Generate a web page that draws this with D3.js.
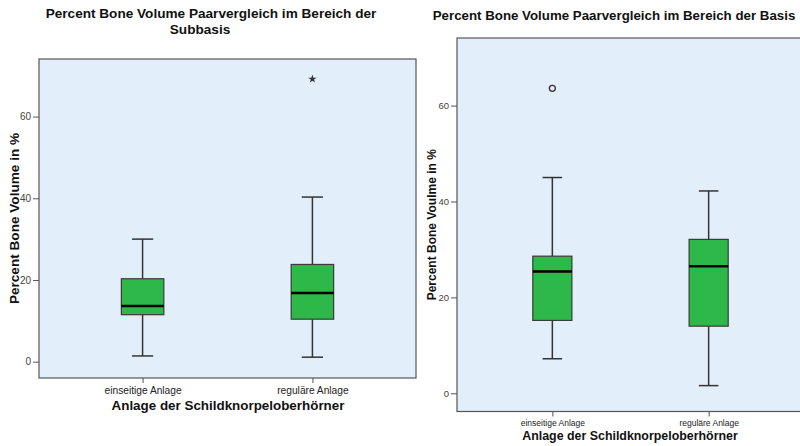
<!DOCTYPE html>
<html><head><meta charset="utf-8">
<script src="https://cdn.jsdelivr.net/npm/d3@7"></script>
<style>body{margin:0;background:#fff;}svg{display:block;font-family:"Liberation Sans",Arial,sans-serif;}</style>
</head><body>
<svg id="c" width="800" height="446"></svg>
<script>
const categories = ["einseitige Anlage", "reguläre Anlage"];
const yTicks = [0, 20, 40, 60];
// Subbasis panel
const subMin = [1.4, 1.1];
const subQ1 = [11.5, 10.4];
const subMedian = [13.6, 16.8];
const subQ3 = [20.3, 23.8];
const subMax = [30.0, 40.3];
const subExtreme = [null, 69.2]; // star
// Basis panel
const basMin = [7.2, 1.6];
const basQ1 = [15.2, 14.0];
const basMedian = [25.4, 26.5];
const basQ3 = [28.6, 32.1];
const basMax = [45.0, 42.2];
const basOutlier = [63.6, null]; // circle

const svg = d3.select("#c");
const bg = "#e2eefa", green = "#2eb84a", line = "#333";

function panel(cfg) {
  const {x0, x1, y0, y1, dom, pad, ylab, xlab, mins, q1, med, q3, maxs, outs, outType,
    tickFont, xTickFont, labFont, xlabFont, titleFont, xTickY, xLabY, yLabX, titleLines} = cfg;
  const g = svg.append("g");
  const y = d3.scaleLinear().domain(dom).range([y1, y0]);
  const x = d3.scalePoint().domain(categories).range([x0, x1]).padding(pad);
  const bw = x.step() * 0.25;
  g.append("rect").attr("x", x0).attr("y", y0).attr("width", x1 - x0).attr("height", y1 - y0)
    .attr("fill", bg).attr("stroke", "#555").attr("stroke-width", 1.2);
  const ya = g.append("g").attr("transform", `translate(${x0},0)`)
    .call(d3.axisLeft(y).tickValues(yTicks).tickSize(6).tickPadding(2));
  ya.select(".domain").remove();
  ya.selectAll("line").attr("stroke", "#555");
  ya.selectAll("text").attr("fill", "#444").style("font-size", tickFont + "px").style("font-family", "Liberation Sans, Arial");
  const xa = g.append("g").attr("transform", `translate(0,${y1})`)
    .call(d3.axisBottom(x).tickSize(5).tickPadding(4));
  xa.select(".domain").remove();
  xa.selectAll("line").attr("stroke", "#555");
  xa.selectAll("text").attr("fill", "#222").style("font-size", xTickFont + "px")
    .style("font-family", "Liberation Sans, Arial").attr("y", xTickY - y1).attr("dy", "0.35em");
  categories.forEach((c, i) => {
    const cx = x(c);
    g.append("line").attr("x1", cx).attr("x2", cx).attr("y1", y(maxs[i])).attr("y2", y(q3[i])).attr("stroke", line).attr("stroke-width", 1.5);
    g.append("line").attr("x1", cx).attr("x2", cx).attr("y1", y(q1[i])).attr("y2", y(mins[i])).attr("stroke", line).attr("stroke-width", 1.5);
    g.append("line").attr("x1", cx - bw / 4).attr("x2", cx + bw / 4).attr("y1", y(maxs[i])).attr("y2", y(maxs[i])).attr("stroke", line).attr("stroke-width", 1.5);
    g.append("line").attr("x1", cx - bw / 4).attr("x2", cx + bw / 4).attr("y1", y(mins[i])).attr("y2", y(mins[i])).attr("stroke", line).attr("stroke-width", 1.5);
    g.append("rect").attr("x", cx - bw / 2).attr("y", y(q3[i])).attr("width", bw).attr("height", y(q1[i]) - y(q3[i]))
      .attr("fill", green).attr("stroke", "#3a3a3a").attr("stroke-width", 1.2);
    g.append("line").attr("x1", cx - bw / 2).attr("x2", cx + bw / 2).attr("y1", y(med[i])).attr("y2", y(med[i])).attr("stroke", "#000").attr("stroke-width", 2.5);
    if (outs[i] != null) {
      if (outType === "star") {
        g.append("path").attr("d", d3.symbol().type(d3.symbolStar).size(22)())
          .attr("transform", `translate(${cx},${y(outs[i])})`).attr("fill", "#333");
      } else {
        g.append("circle").attr("cx", cx).attr("cy", y(outs[i])).attr("r", 3)
          .attr("fill", "none").attr("stroke", "#333").attr("stroke-width", 1.3);
      }
    }
  });
  titleLines.forEach(t => {
    g.append("text").attr("x", t.x).attr("y", t.y).attr("text-anchor", "middle").attr("dy", "0.35em")
      .style("font-size", titleFont + "px").style("font-weight", "bold").attr("fill", "#111").text(t.text);
  });
  g.append("text").attr("transform", `translate(${yLabX},${(y0 + y1) / 2}) rotate(-90)`).attr("text-anchor", "middle").attr("dy", "0.35em")
    .style("font-size", labFont + "px").style("font-weight", "bold").attr("fill", "#111").text(ylab);
  g.append("text").attr("x", cfg.xLabX).attr("y", xLabY).attr("text-anchor", "middle").attr("dy", "0.35em")
    .style("font-size", xlabFont + "px").style("font-weight", "bold").attr("fill", "#111").text(xlab);
}

panel({x0: 39, x1: 416, y0: 59, y1: 378, dom: [-4.0, 74.1], pad: 0.61,
  titleLines: [{text: "Percent Bone Volume Paarvergleich im Bereich der", x: 211, y: 13},
               {text: "Subbasis", x: 200, y: 29}],
  ylab: "Percent Bone Volume in %", xlab: "Anlage der Schildknorpeloberhörner",
  mins: subMin, q1: subQ1, med: subMedian, q3: subQ3, maxs: subMax, outs: subExtreme, outType: "star",
  tickFont: 10, xTickFont: 10.2, labFont: 13.6, xlabFont: 13.4, titleFont: 13.6, xTickY: 390, xLabY: 405, xLabX: 228, yLabX: 14});

panel({x0: 457, x1: 804, y0: 38, y1: 411.5, dom: [-3.8, 74.1], pad: 0.61,
  titleLines: [{text: "Percent Bone Volume Paarvergleich im Bereich der Basis", x: 614, y: 15}],
  ylab: "Percent Bone Voulme in %", xlab: "Anlage der Schildknorpeloberhörner",
  mins: basMin, q1: basQ1, med: basMedian, q3: basQ3, maxs: basMax, outs: basOutlier, outType: "circle",
  tickFont: 9.5, xTickFont: 8.5, labFont: 12, xlabFont: 12.4, titleFont: 13.3, xTickY: 423, xLabY: 436, xLabX: 630, yLabX: 432});
</script>
</body></html>
